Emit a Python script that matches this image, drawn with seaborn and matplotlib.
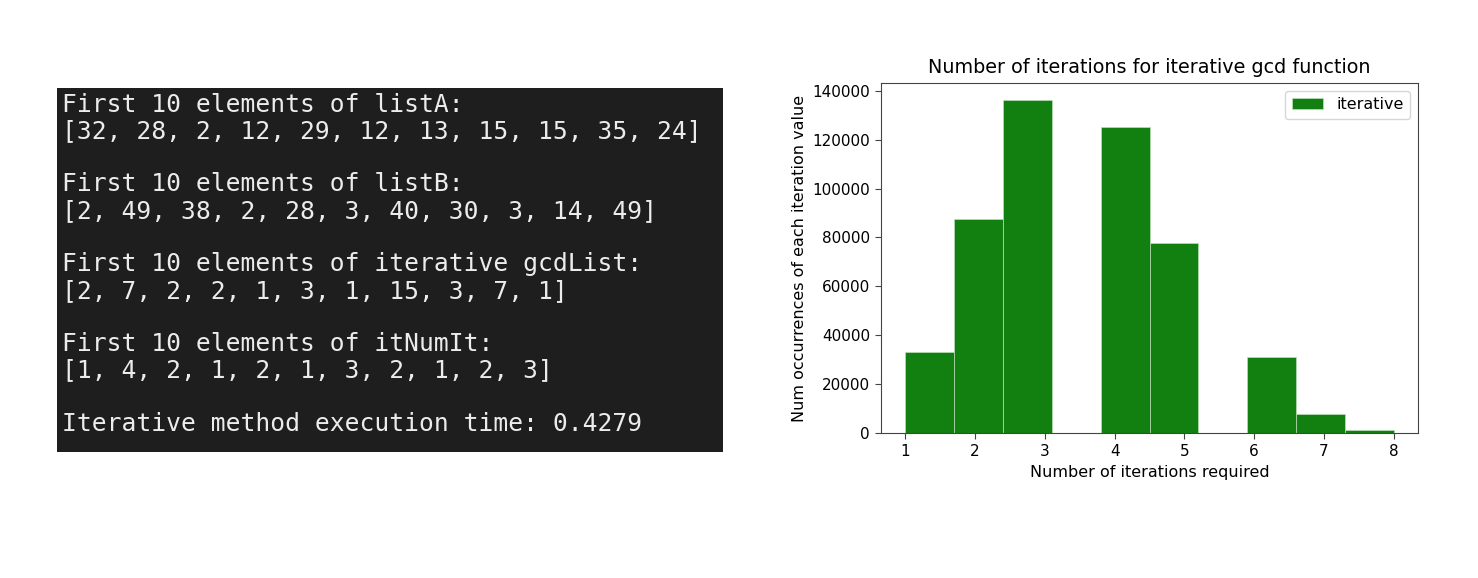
import numpy as np
import pandas as pd
import seaborn as sns
import matplotlib.pyplot as plt


# -----------------------------
# DATA
# -----------------------------
iterations = [1, 2, 3, 4, 5, 6, 7, 8]
occurrences = [33000, 87600, 136400, 125100, 77800, 31100, 7900, 1400]

console_lines = [
    "First 10 elements of listA:",
    "[32, 28, 2, 12, 29, 12, 13, 15, 15, 35, 24]",
    "",
    "First 10 elements of listB:",
    "[2, 49, 38, 2, 28, 3, 40, 30, 3, 14, 49]",
    "",
    "First 10 elements of iterative gcdList:",
    "[2, 7, 2, 2, 1, 3, 1, 15, 3, 7, 1]",
    "",
    "First 10 elements of itNumIt:",
    "[1, 4, 2, 1, 2, 1, 3, 2, 1, 2, 3]",
    "",
    "Iterative method execution time: 0.4279",
]

df = pd.DataFrame({"iterations": iterations, "occurrences": occurrences})

W, H = 1478, 578
fig = plt.figure(figsize=(W / 100, H / 100), dpi=100)
fig.patch.set_facecolor("white")


# -----------------------------
# LEFT: CONSOLE OUTPUT
# -----------------------------
box_l, box_t, box_r, box_b = 57, 88, 723, 452
con = fig.add_axes([box_l / W, 1 - box_b / H, (box_r - box_l) / W, (box_b - box_t) / H])
con.set_facecolor("#1e1e1e")
con.set_xlim(0, box_r - box_l)
con.set_ylim(box_b - box_t, 0)
con.set_xticks([])
con.set_yticks([])
for s in con.spines.values():
    s.set_visible(False)

for i, line in enumerate(console_lines):
    con.text(5, 16.5 + i * 26.6, line, color="#ececec", fontsize=17.7,
             family="DejaVu Sans Mono", va="center", ha="left")


# -----------------------------
# RIGHT: HISTOGRAM
# -----------------------------
ax = fig.add_axes([881 / W, 1 - 433 / H, 537 / W, 350 / H])
sns.histplot(data=df, x="iterations", weights="occurrences", bins=10,
             color="#118011", alpha=1, edgecolor="#b9dfb9", linewidth=0.5,
             label="iterative", ax=ax)

ax.set_title("Number of iterations for iterative gcd function", fontsize=13.8, pad=7)
ax.set_xlabel("Number of iterations required", fontsize=11.5)
ax.set_ylabel("Num occurrences of each iteration value", fontsize=11.5)
ax.tick_params(labelsize=11, length=4.5, color="#444444")
for s in ax.spines.values():
    s.set_color("#444444")
ax.set_yticks(np.arange(0, 140001, 20000))
ax.set_xticks(iterations)
ax.legend(loc="upper right", fontsize=11.5)

fig.savefig("out.png", dpi=100)
